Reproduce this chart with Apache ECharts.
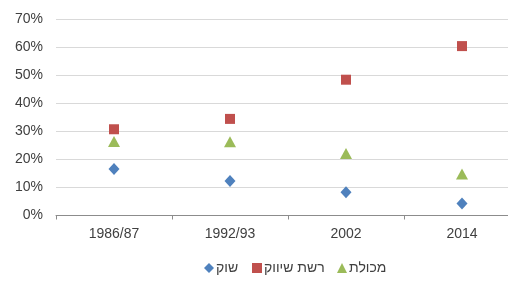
<!DOCTYPE html>
<html>
<head>
<meta charset="utf-8">
<script src="https://cdn.jsdelivr.net/npm/echarts@6/dist/echarts.min.js"></script>
<style>html,body{margin:0;padding:0;background:#fff}#c{width:508px;height:285px}</style>
</head>
<body>
<div id="c"></div>
<script>
const categories = ['1986/87', '1992/93', '2002', '2014'];
const seriesNames = ['שוק', 'רשת שיווק', 'מכולת'];
const shuk = [16.6, 12.3, 8.3, 4.3];
const reshet = [30.8, 34.5, 48.5, 60.5];
const makolet = [26.4, 26.3, 22.1, 14.8];
const yTicks = [0, 10, 20, 30, 40, 50, 60, 70];

const colors = ['#4F81BD', '#C0504D', '#9BBB59'];
const symbols = ['diamond', 'rect', 'triangle'];
const sizes = [[11, 12], [10, 10], [12, 11]];
const values = [shuk, reshet, makolet];
const legendLeft = [199, 247, 332];

const chart = echarts.init(document.getElementById('c'), null, {renderer: 'canvas'});
chart.setOption({
  animation: false,
  textStyle: {fontFamily: 'Liberation Sans, Arial, sans-serif'},
  grid: {left: 56, top: 19.5, width: 464, height: 196, containLabel: false, outerBoundsMode: 'none'},
  legend: seriesNames.map((n, i) => ({
    left: legendLeft[i], top: 256,
    itemWidth: 10, itemHeight: 10,
    textStyle: {fontSize: 14, color: '#404040', padding: [0, 0, 0, -3], fontFamily: 'Liberation Sans, Arial, sans-serif'},
    data: [{name: n, icon: symbols[i]}]
  })),
  xAxis: {
    type: 'category', data: categories, boundaryGap: true,
    axisLine: {lineStyle: {color: '#8c8c8c', width: 1}},
    axisTick: {show: true, length: 4, lineStyle: {color: '#8c8c8c'}},
    axisLabel: {fontSize: 14, color: '#404040', margin: 12}
  },
  yAxis: {
    type: 'value', min: yTicks[0], max: yTicks[yTicks.length - 1], interval: 10,
    axisLine: {show: false}, axisTick: {show: false},
    axisLabel: {fontSize: 14, color: '#404040', margin: 13, formatter: '{value}%'},
    splitLine: {lineStyle: {color: '#d9d9d9', width: 1}}
  },
  series: seriesNames.map((n, i) => ({
    name: n, type: 'scatter', data: values[i],
    symbol: symbols[i], symbolSize: sizes[i],
    itemStyle: {color: colors[i], opacity: 1}
  }))
});
</script>
</body>
</html>
